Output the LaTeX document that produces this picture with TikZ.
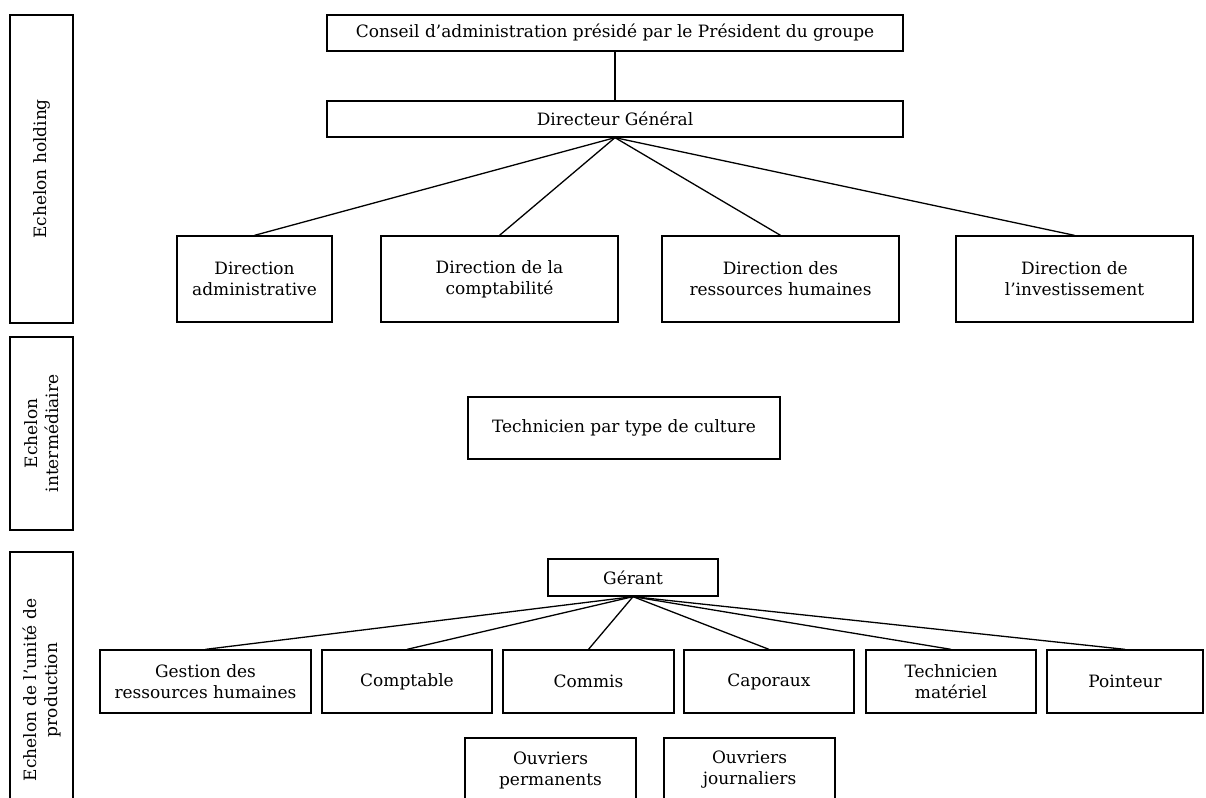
\documentclass[tikz,border=0pt]{standalone}
\usepackage{fontspec}
\setmainfont{DejaVu Serif}
\begin{document}
\begin{tikzpicture}[x=1pt,y=-1pt,
  box/.style={draw, line width=1.3pt, inner sep=0pt, align=center,
    font=\fontsize{17}{21}\selectfont},
  band/.style={box, rotate=90, minimum height=63pt},
  link/.style={line width=1.3pt}]
\useasboundingbox (0,0) rectangle (1206,797);
\clip (0,0) rectangle (1206,797);
% side bands
\node[band, minimum width=308pt] (b1) at (41.5,169) {Echelon holding};
\node[band, minimum width=193pt] (b2) at (41.5,433.5) {Echelon\\intermédiaire};
\node[band, minimum width=276pt] (b3) at (41.5,690) {Echelon de l'unité de\\production};
% holding level
\node[box, minimum width=576pt, minimum height=36pt] (conseil) at (615,33) {Conseil d'administration présidé par le Président du groupe};
\node[box, minimum width=576pt, minimum height=36pt] (dg) at (615,119) {Directeur Général};
\node[box, minimum width=155pt, minimum height=86pt] (adm) at (254.5,279) {Direction\\administrative};
\node[box, minimum width=237pt, minimum height=86pt] (compta) at (499.5,279) {Direction de la\\comptabilité};
\node[box, minimum width=237pt, minimum height=86pt] (rh) at (780.5,279) {Direction des\\ressources humaines};
\node[box, minimum width=237pt, minimum height=86pt] (inv) at (1074.5,279) {Direction de\\l'investissement};
% intermediate
\node[box, minimum width=312pt, minimum height=62pt] (tech) at (624,428) {Technicien par type de culture};
% production
\node[box, minimum width=170pt, minimum height=37pt] (gerant) at (633,577.5) {Gérant};
\node[box, minimum width=211pt, minimum height=63pt] (gestion) at (205.5,681.5) {Gestion des\\ressources humaines};
\node[box, minimum width=170pt, minimum height=63pt] (comptable) at (407,681.5) {Comptable};
\node[box, minimum width=171pt, minimum height=63pt] (commis) at (588.5,681.5) {Commis};
\node[box, minimum width=170pt, minimum height=63pt] (caporaux) at (769,681.5) {Caporaux};
\node[box, minimum width=170pt, minimum height=63pt] (techmat) at (951,681.5) {Technicien\\matériel};
\node[box, minimum width=156pt, minimum height=63pt] (pointeur) at (1125,681.5) {Pointeur};
\node[box, minimum width=171pt, minimum height=64pt] (perm) at (550.5,770) {Ouvriers\\permanents};
\node[box, minimum width=171pt, minimum height=64pt] (journ) at (749.5,770) {Ouvriers\\journaliers};
% connectors
\draw[link] (conseil.south) -- (dg.north);
\foreach \n in {adm,compta,rh,inv} \draw[link] (dg.south) -- (\n.north);
\foreach \n in {gestion,comptable,commis,caporaux,techmat,pointeur} \draw[link] (gerant.south) -- (\n.north);
\end{tikzpicture}
\end{document}
